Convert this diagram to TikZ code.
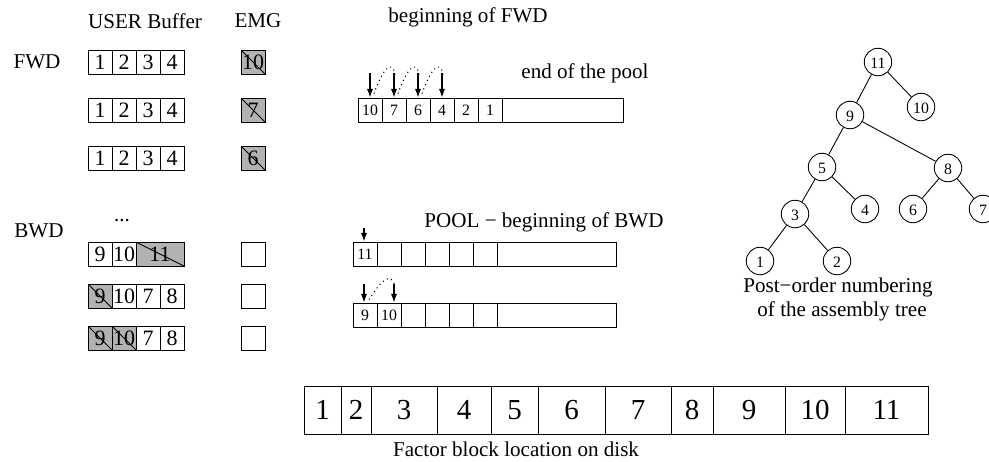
\documentclass[tikz,border=0pt]{standalone}
\usepackage{fontspec}
\setmainfont{Liberation Serif}
\usetikzlibrary{positioning, arrows.meta, calc}

\begin{document}
\begin{tikzpicture}[
    x=0.02cm, y=-0.02cm,
    every node/.style={align=center},
    txt/.style={inner sep=0pt, font=\fontsize{12}{14}\selectfont},
    cell/.style={draw, line width=0.5pt, minimum width=0.48cm, minimum height=0.48cm, inner sep=0pt, font=\fontsize{12.5}{13}\selectfont},
    used/.style={cell, fill=black!30, path picture={\draw[line width=0.5pt] (path picture bounding box.north west) -- (path picture bounding box.south east);}},
    slot/.style={cell, font=\fontsize{9}{10}\selectfont},
    disk/.style={draw, line width=0.5pt, minimum height=0.96cm, inner sep=0pt, font=\fontsize{16.5}{17}\selectfont},
    leaf/.style={circle, draw, line width=0.5pt, minimum size=0.55cm, inner sep=0pt, text height=7pt, text depth=0pt, font=\fontsize{9}{10}\selectfont},
    ptr/.style={-{Latex[length=5pt,width=3.6pt]}, line width=0.7pt},
    hop/.style={dotted, line width=0.6pt}
]
\useasboundingbox (0,0) rectangle (989,461);

% titres
\node[txt] (userbuf) at (145,21) {USER Buffer};
\node[txt] (emg) at (258,21) {EMG};
\node[txt] (fwdpool) at (468,17) {beginning of FWD};
\node[txt] (fwd) at (37,62) {FWD};
\node[txt] (bwd) at (39,231) {BWD};
\node[txt] (dots) at (122,221) {...};
\node[txt] (endpool) at (585,73) {end of the pool};
\node[txt] (bwdpool) at (544,222) {POOL − beginning of BWD};

% buffer utilisateur, phase FWD
\foreach \r/\y/\e in {1/62/10, 2/110/7, 3/158/6} {
  \node[cell] (fa\r) at (100,\y) {1};
  \node[cell] (fb\r) at (124,\y) {2};
  \node[cell] (fc\r) at (148,\y) {3};
  \node[cell] (fd\r) at (172,\y) {4};
  \node[used] (emg\r) at (253,\y) {\e};
}

% buffer utilisateur, phase BWD
\node[cell] (ba1) at (100,254) {9};
\node[cell] (bb1) at (124,254) {10};
\node[used, minimum width=0.96cm] (bc1) at (160,254) {11};
\node[cell] (emg4) at (253,254) {};

\node[used] (ba2) at (100,296) {9};
\node[cell] (bb2) at (124,296) {10};
\node[cell] (bc2) at (148,296) {7};
\node[cell] (bd2) at (172,296) {8};
\node[cell] (emg5) at (253,296) {};

\node[used] (ba3) at (100,338) {9};
\node[used] (bb3) at (124,338) {10};
\node[cell] (bc3) at (148,338) {7};
\node[cell] (bd3) at (172,338) {8};
\node[cell] (emg6) at (253,338) {};

% pool FWD
\foreach \i/\x/\l in {1/370/10, 2/394/7, 3/418/6, 4/442/4, 5/466/2, 6/490/1}
  \node[slot] (p\i) at (\x,110) {\l};
\node[slot, minimum width=2.42cm] (prest) at (562.5,110) {};
\foreach \i/\x in {1/370, 2/394, 3/418, 4/442} {
  \coordinate (pt\i) at (\x,73);
  \draw[ptr] (pt\i) -- (p\i.north);
}
\foreach \i/\j in {1/2, 2/3, 3/4}
  \draw[hop] ($(p\i.north)+(4,-4)$) .. controls ($(pt\j)+(-12,-2)$) and ($(pt\j)+(-2,-16)$) .. ($(pt\j)+(1,2)$);

% pool BWD
\node[slot] (q1) at (365,254) {11};
\foreach \i/\x in {2/389, 3/413, 4/437, 5/461, 6/485}
  \node[slot] (q\i) at (\x,254) {};
\node[slot, minimum width=2.38cm] (qrest) at (556.5,254) {};
\coordinate (qt1) at (364,228);
\draw[ptr] (qt1) -- (qt1 |- q1.north);

\node[slot] (s1) at (365,315) {9};
\node[slot] (s2) at (389,315) {10};
\foreach \i/\x in {3/413, 4/437, 5/461, 6/485}
  \node[slot] (s\i) at (\x,315) {};
\node[slot, minimum width=2.38cm] (srest) at (556.5,315) {};
\coordinate (st1) at (364,284);
\coordinate (st2) at (394,284);
\draw[ptr] (st1) -- (st1 |- s1.north);
\draw[ptr] (st2) -- (st2 |- s2.north);
\draw[hop] ($(st1 |- s1.north)+(5,-3)$) .. controls ($(st2)+(-14,-2)$) and ($(st2)+(-3,-14)$) .. ($(st2)+(1,2)$);

% arbre d'assemblage
\node[leaf] (t11) at (878,62) {11};
\node[leaf] (t10) at (921,107) {10};
\node[leaf] (t9) at (850,115) {9};
\node[leaf] (t5) at (822,167) {5};
\node[leaf] (t8) at (948,168) {8};
\node[leaf] (t3) at (795,214) {3};
\node[leaf] (t4) at (865,209) {4};
\node[leaf] (t6) at (913,209) {6};
\node[leaf] (t7) at (983,209) {7};
\node[leaf] (t1) at (760,261) {1};
\node[leaf] (t2) at (837,261) {2};
\draw[line width=0.5pt] (t11) -- (t9);
\draw[line width=0.5pt] (t11) -- (t10);
\draw[line width=0.5pt] (t9) -- (t5);
\draw[line width=0.5pt] (t9) -- (t8);
\draw[line width=0.5pt] (t5) -- (t3);
\draw[line width=0.5pt] (t5) -- (t4);
\draw[line width=0.5pt] (t8) -- (t6);
\draw[line width=0.5pt] (t8) -- (t7);
\draw[line width=0.5pt] (t3) -- (t1);
\draw[line width=0.5pt] (t3) -- (t2);
\node[txt] (tcap1) at (838,287) {Post−order numbering};
\node[txt] (tcap2) at (842,311) {of the assembly tree};

% blocs sur disque
\foreach \l/\a/\b in {1/304/341, 2/341/371, 3/371/437, 4/437/491, 5/491/538, 6/538/605, 7/605/671, 8/671/713, 9/713/785, 10/785/845, 11/845/928}
  \node[disk, minimum width={(\b-\a)*0.02cm}] (d\l) at ({(\a+\b)/2},410) {\l};
\node[txt] (diskcap) at (516,449) {Factor block location on disk};

\end{tikzpicture}
\end{document}
